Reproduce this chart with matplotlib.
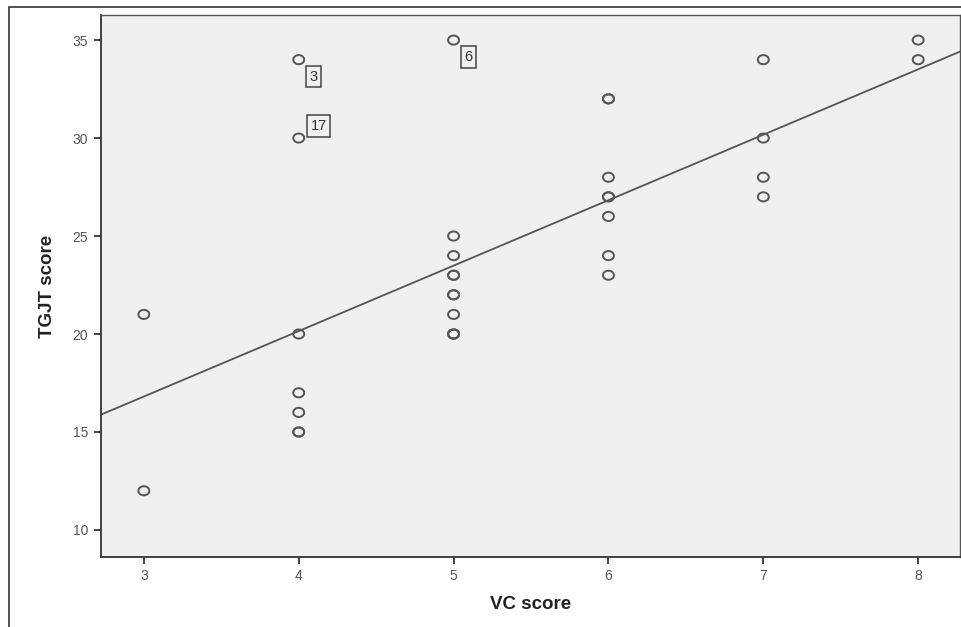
import matplotlib
matplotlib.use("Agg")
import matplotlib.pyplot as plt
import numpy as np
from matplotlib.patches import Rectangle
from matplotlib.path import Path

# data
vc_score = [3, 3,
            4, 4, 4, 4, 4, 4, 4,
            5, 5, 5, 5, 5, 5, 5, 5, 5, 5, 5,
            6, 6, 6, 6, 6, 6, 6, 6,
            7, 7, 7, 7,
            8, 8]
tgjt_score = [21, 12,
              34, 30, 20, 17, 16, 15, 15,
              35, 25, 24, 23, 23, 22, 22, 21, 20, 20, 20,
              32, 32, 28, 27, 27, 26, 24, 23,
              34, 30, 28, 27,
              35, 34]
fit_intercept = 6.79
fit_slope = 3.34
label_points = [(4, 34, "3"), (4, 30, "17"), (5, 35, "6")]
label_offsets_px = [(15, -17), (20, 12), (15, -17)]
x_ticks = [3, 4, 5, 6, 7, 8]
y_ticks = [10, 15, 20, 25, 30, 35]

plt.rcParams["font.family"] = ["Liberation Sans", "DejaVu Sans"]

W, H = 961, 627
fig = plt.figure(figsize=(W / 100, H / 100), dpi=100)
fig.patch.set_facecolor("white")

# outer frame
fig.patches.append(Rectangle((9 / W, -0.05), 1.2, 1 - 7 / H + 0.05,
                             transform=fig.transFigure, fill=False,
                             edgecolor="#333333", linewidth=1.2))

ax = fig.add_axes([100.5 / W, 1 - 557 / H, (960 - 100.5) / W, (557 - 15) / H])
ax.set_facecolor("#f0f0f0")
xlim = (2.72, 8.27)
ylim = (8.62, 36.28)
ax.set_xlim(*xlim)
ax.set_ylim(*ylim)

# slightly wide elliptical marker
t = np.linspace(0, 2 * np.pi, 40)
ellipse = Path(np.column_stack([1.2 * np.cos(t), 1.0 * np.sin(t)]), closed=True)

ax.scatter(vc_score, tgjt_score, s=62, marker=ellipse, facecolors="none",
           edgecolors="#555555", linewidths=1.4, zorder=3)

xs = np.array(xlim)
ax.plot(xs, fit_intercept + fit_slope * xs, color="#555555", linewidth=1.3, zorder=2)

for (px, py, lab), (dx, dy) in zip(label_points, label_offsets_px):
    ax.annotate(lab, (px, py), xytext=(dx * 0.72, dy * 0.72),
                textcoords="offset points", ha="center", va="center",
                fontsize=10.5, color="#333333",
                bbox=dict(boxstyle="square,pad=0.25", facecolor="none",
                          edgecolor="#444444", linewidth=1.1))

ax.set_xticks(x_ticks)
ax.set_yticks(y_ticks)
ax.tick_params(direction="out", length=5, width=1.3, color="#333333",
               labelsize=10, labelcolor="#555555", pad=4)
for sp in ["top", "right"]:
    ax.spines[sp].set_color("#555555")
    ax.spines[sp].set_linewidth(1.0)
for sp in ["left", "bottom"]:
    ax.spines[sp].set_color("#333333")
    ax.spines[sp].set_linewidth(1.3)

ax.set_xlabel("VC score", fontsize=13.5, fontweight="bold", color="#222222", labelpad=9)
ax.set_ylabel("TGJT score", fontsize=13.5, fontweight="bold", color="#222222", labelpad=12)

fig.savefig("out.png", dpi=100)
